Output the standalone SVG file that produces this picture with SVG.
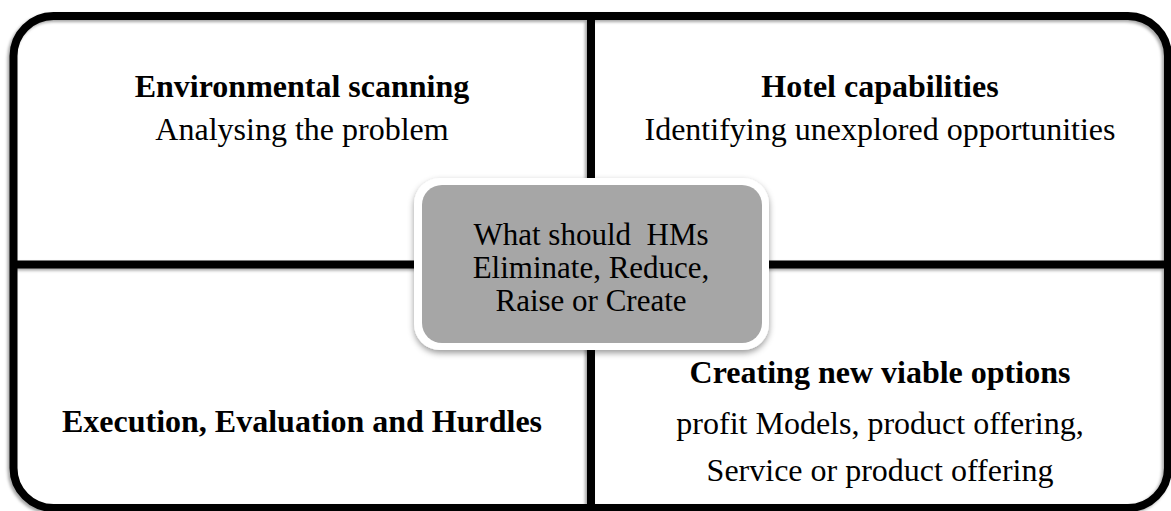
<svg xmlns="http://www.w3.org/2000/svg" width="1171" height="511" viewBox="0 0 1171 511">
<defs>
<style>
.t{font-family:"Liberation Serif","Times New Roman",serif;font-size:32px;fill:#000;text-anchor:middle}
.c{font-size:31px}
.b{font-weight:bold}
.ln{stroke:#000;stroke-width:8;fill:none}
</style>
<filter id="sh" x="-5%" y="-5%" width="110%" height="110%">
<feDropShadow dx="-2" dy="2" stdDeviation="1.5" flood-color="#000" flood-opacity="0.35"/>
</filter>
<filter id="sh2" x="-10%" y="-10%" width="120%" height="130%">
<feDropShadow dx="0" dy="3" stdDeviation="3" flood-color="#000" flood-opacity="0.4"/>
</filter>
</defs>
<rect width="1171" height="511" fill="#fff"/>
<g id="connectors" filter="url(#sh)">
<rect class="ln" x="13.5" y="16" width="1154.5" height="492" rx="40" ry="40"/>
<line class="ln" x1="591" y1="16" x2="591" y2="508"/>
<line class="ln" x1="13.5" y1="264.5" x2="1168" y2="264.5"/>
</g>
<g id="q1">
<text class="t b" x="302" y="97">Environmental scanning</text>
<text class="t" x="302" y="140">Analysing the problem</text>
</g>
<g id="q2">
<text class="t b" x="880" y="97">Hotel capabilities</text>
<text class="t" x="880" y="140">Identifying unexplored opportunities</text>
</g>
<g id="q3">
<text class="t b" x="302" y="432">Execution, Evaluation and Hurdles</text>
</g>
<g id="q4">
<text class="t b" x="880" y="383">Creating new viable options</text>
<text class="t" x="880" y="434">profit Models, product offering,</text>
<text class="t" x="880" y="481">Service or product offering</text>
</g>
<g id="center">
<rect x="414" y="178" width="355" height="172" rx="26" ry="26" fill="#fff" filter="url(#sh2)"/>
<rect x="422" y="185" width="340" height="158" rx="20" ry="20" fill="#a6a6a6"/>
<text class="t c" x="591" y="245" xml:space="preserve">What should  HMs</text>
<text class="t c" x="591" y="278">Eliminate, Reduce,</text>
<text class="t c" x="591" y="311">Raise or Create</text>
</g>
</svg>
